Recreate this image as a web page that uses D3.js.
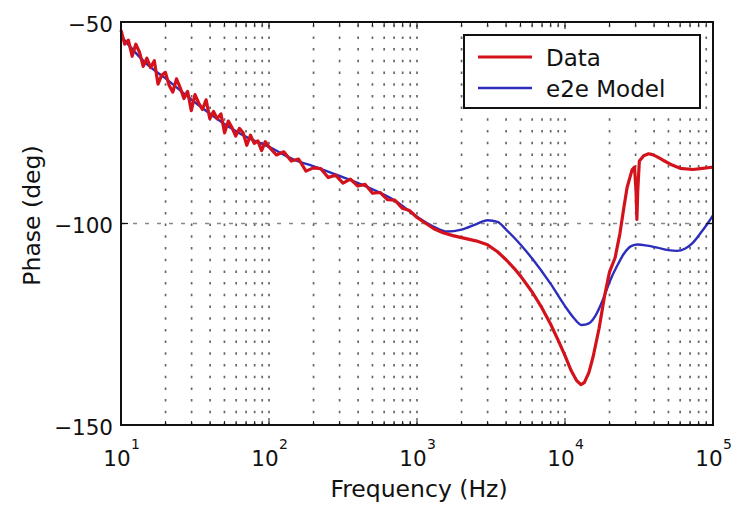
<!DOCTYPE html>
<html>
<head>
<meta charset="utf-8">
<script src="https://cdn.jsdelivr.net/npm/d3@7"></script>
<style>
  html, body { margin: 0; padding: 0; background: #fff; }
  svg { display: block; }
  text { font-family: "DejaVu Sans", "Liberation Sans", Arial, sans-serif; fill: #111; }
</style>
</head>
<body>
<svg id="chart" width="736" height="506"></svg>
<script>
// ---------- data ----------
const seriesNames = ["Data", "e2e Model"];

const dataFreq = [10, 10.59, 11.22, 11.89, 12.59, 13.34, 14.13, 14.96, 15.85, 16.79, 17.78, 18.84, 19.95, 21.13, 22.39, 23.71, 25.12, 26.61, 28.18, 29.85, 31.62, 33.5, 35.48, 37.58, 39.81, 42.17, 44.67, 47.32, 50.12, 53.09, 56.23, 59.57, 63.1, 66.83, 70.79, 74.99, 79.43, 84.14, 89.13, 94.41, 100,
  112.2, 125.9, 141.3, 158.5, 177.8, 199.5, 223.9, 251.2, 281.8, 316.2, 354.8, 398.1, 446.7, 501.2, 562.3, 631, 707.9, 794.3, 891.3, 1000,
  1150, 1300, 1500, 1750, 2000, 2500, 3000, 3500, 4000, 4500, 5000, 6000, 7000, 8000, 9000, 10000, 11000, 12000, 12800, 13500, 14500, 15500, 17000, 18500, 20000, 21800, 23500, 25000, 26300, 27500, 28400, 29500, 30200, 30600, 31000, 31800, 34000, 36700, 39000, 41700, 46000, 53000, 60000, 73000, 85000, 95000, 100000];
const dataPhase = [-52, -55.5, -54.5, -58.5, -55.5, -57.5, -61, -59, -61.3, -59.6, -65.4, -63.2, -62.5, -65.7, -67.4, -64.1, -66.3, -69, -67.2, -72, -68, -70.1, -71.7, -69.3, -74, -72.2, -74, -72.8, -77.5, -74.6, -76.2, -78.3, -76.4, -77.5, -80.6, -78.1, -80.1, -79.5, -81.9, -79.7, -81,
  -83, -82.2, -84.5, -84, -87, -86.2, -86.4, -88.6, -88, -90, -89, -90.7, -90.3, -92.5, -92.3, -94.1, -94.2, -96.2, -96.8, -98.5,
  -100, -101.3, -102.3, -103, -103.5, -104.3, -105.3, -107, -109, -111, -113, -117, -121, -125, -129, -132.8, -136.5, -139, -140, -139.5, -137, -133, -126, -118, -112, -108.5, -102.5, -96, -91, -88.5, -86.7, -86, -92, -99, -92, -84.5, -83.2, -82.7, -82.9, -83.4, -84.3, -85.5, -86.3, -86.6, -86.3, -86.1, -86];

const modelFreq = [10, 15, 20, 30, 50, 70, 100, 150, 200, 300, 500, 700, 1000, 1300, 1600, 2000, 2500, 3000, 3500, 4000, 5000, 6000, 8000, 10000, 11500, 13000, 14500, 16000, 18000, 20000, 22500, 25000, 28000, 31000, 36000, 42000, 50000, 57000, 65000, 73000, 82000, 92000, 100000];
const modelPhase = [-53.5, -60.5, -64, -69.3, -75.3, -78.5, -81, -84.3, -85.8, -88.2, -91.5, -94.2, -98.3, -100.8, -102, -101.5, -100.2, -99.2, -99.6, -101.5, -105.2, -108.7, -115, -120.5, -123.5, -125.2, -124.8, -123, -119, -114.5, -110.5, -107.5, -105.6, -105.2, -105.5, -106, -106.6, -106.8, -106.2, -104.8, -102.5, -100, -98];

const xTickExps = [1, 2, 3, 4, 5];
const yTickValues = [-150, -100, -50];
const xLabel = "Frequency (Hz)";
const yLabel = "Phase (deg)";

// ---------- layout ----------
const L = 121, R = 713, T = 22, B = 425;
const svg = d3.select("#chart");

const x = d3.scaleLog().domain([10, 100000]).range([L, R]);
const y = d3.scaleLinear().domain([-150, -50]).range([B, T]);

// minor / major vertical grid positions
const gridFreqs = [];
for (let e = 1; e <= 4; e++) {
  for (let k = 1; k <= 9; k++) {
    const f = k * Math.pow(10, e);
    if (f > 10 && f < 100000) gridFreqs.push(f);
  }
}

const grid = svg.append("g");
grid.selectAll("line.vg").data(gridFreqs).join("line")
  .attr("class", "vg")
  .attr("x1", d => x(d)).attr("x2", d => x(d))
  .attr("y1", B).attr("y2", T)
  .attr("stroke", "#666").attr("stroke-width", 1.7)
  .attr("stroke-dasharray", "2.5,9.2");

grid.selectAll("line.hg").data([-100]).join("line")
  .attr("class", "hg")
  .attr("x1", L).attr("x2", R)
  .attr("y1", d => y(d)).attr("y2", d => y(d))
  .attr("stroke", "#888").attr("stroke-width", 1.3)
  .attr("stroke-dasharray", "4,8");

// curves
const modelPts = modelFreq.map((f, i) => [f, modelPhase[i]]);
const dataPts = dataFreq.map((f, i) => [f, dataPhase[i]]);

svg.append("path").datum(modelPts)
  .attr("d", d3.line().x(d => x(d[0])).y(d => y(d[1])).curve(d3.curveMonotoneX))
  .attr("fill", "none").attr("stroke", "#2d2dbd").attr("stroke-width", 2.4);
svg.append("path").datum(dataPts)
  .attr("d", d3.line().x(d => x(d[0])).y(d => y(d[1])))
  .attr("fill", "none").attr("stroke", "#d3121c").attr("stroke-width", 3.2)
  .attr("stroke-linejoin", "round");

// ticks (inside) and box
const allX = gridFreqs.concat([10, 100000]);
const ticksG = svg.append("g");
ticksG.selectAll("line.bt").data(allX).join("line")
  .attr("x1", d => x(d)).attr("x2", d => x(d))
  .attr("y1", B).attr("y2", d => B - (Number.isInteger(Math.log10(d)) ? 7 : 4))
  .attr("stroke", "#111").attr("stroke-width", 1);
ticksG.selectAll("line.tt").data(allX).join("line")
  .attr("x1", d => x(d)).attr("x2", d => x(d))
  .attr("y1", T).attr("y2", d => T + (Number.isInteger(Math.log10(d)) ? 7 : 4))
  .attr("stroke", "#111").attr("stroke-width", 1);
ticksG.selectAll("line.lt").data(yTickValues).join("line")
  .attr("x1", L).attr("x2", L + 7)
  .attr("y1", d => y(d)).attr("y2", d => y(d))
  .attr("stroke", "#111").attr("stroke-width", 1.2);
ticksG.selectAll("line.rt").data(yTickValues).join("line")
  .attr("x1", R).attr("x2", R - 7)
  .attr("y1", d => y(d)).attr("y2", d => y(d))
  .attr("stroke", "#111").attr("stroke-width", 1.2);

svg.append("rect").attr("x", L).attr("y", T).attr("width", R - L).attr("height", B - T)
  .attr("fill", "none").attr("stroke", "#111").attr("stroke-width", 2);

// y tick labels
svg.append("g").selectAll("text").data(yTickValues).join("text")
  .attr("x", L - 8).attr("y", d => y(d) + 2)
  .attr("text-anchor", "end").attr("dominant-baseline", "central")
  .attr("font-size", 21.5)
  .text(d => d < 0 ? "\u2212" + Math.abs(d) : String(d));

// x tick labels: 10^n
const xl = svg.append("g").selectAll("g").data(xTickExps).join("g")
  .attr("transform", d => `translate(${x(Math.pow(10, d))},0)`);
xl.append("text").attr("x", -4).attr("y", 466)
  .attr("text-anchor", "middle").attr("font-size", 21.5).text("10");
xl.append("text").attr("x", 10).attr("y", 449)
  .attr("text-anchor", "start").attr("font-size", 14).text(d => d);

// axis labels
svg.append("text").attr("x", (L + R) / 2 + 2).attr("y", 497)
  .attr("text-anchor", "middle").attr("font-size", 23.5).text(xLabel);
svg.append("text")
  .attr("transform", `translate(40,${(T + B) / 2 - 8}) rotate(-90)`)
  .attr("text-anchor", "middle").attr("font-size", 23.5).text(yLabel);

// legend
const lg = svg.append("g");
lg.append("rect").attr("x", 464).attr("y", 35).attr("width", 236).attr("height", 73)
  .attr("fill", "#fff").attr("stroke", "#111").attr("stroke-width", 2);
const lgColors = ["#d3121c", "#2d2dbd"];
const lgY = [57, 88];
seriesNames.forEach((n, i) => {
  lg.append("line").attr("x1", 478).attr("x2", 532).attr("y1", lgY[i]).attr("y2", lgY[i])
    .attr("stroke", lgColors[i]).attr("stroke-width", i === 0 ? 3 : 2.4);
  lg.append("text").attr("x", 546).attr("y", lgY[i] + 1)
    .attr("dominant-baseline", "central").attr("font-size", 23).text(n);
});
</script>
</body>
</html>
